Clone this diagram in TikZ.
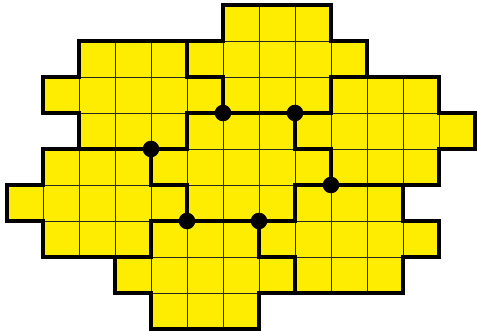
\documentclass[tikz,border=0pt]{standalone}
\usepackage{xcolor}
\usepackage{tikz}
\definecolor{cellyellow}{RGB}{255,237,0}

\begin{document}
\begin{tikzpicture}[x=1cm, y=-1cm,
  gridline/.style={line width=0.7pt, black!85},
  thickline/.style={line width=2.8pt, black},
  junction/.style={fill=black}]
\useasboundingbox (-0.194,-0.139) rectangle (13.056,9.028);
\coordinate (P1) at (6,3);
\coordinate (P2) at (8,3);
\coordinate (P3) at (4,4);
\coordinate (P4) at (9,5);
\coordinate (P5) at (5,6);
\coordinate (P6) at (7,6);
% outline of the whole patch
\def\outline{(6,0)--(9,0)--(9,1)--(10,1)--(10,2)--(12,2)--(12,3)--(13,3)--(13,4)--(12,4)--(12,5)--(11,5)--(11,6)--(12,6)--(12,7)--(11,7)--(11,8)--(7,8)--(7,9)--(4,9)--(4,8)--(3,8)--(3,7)--(1,7)--(1,6)--(0,6)--(0,5)--(1,5)--(1,4)--(2,4)--(2,3)--(1,3)--(1,2)--(2,2)--(2,1)--(6,1)--cycle}
\fill[cellyellow] \outline;
\begin{scope}
\clip \outline;
\draw[gridline] (0,0) grid (13,9);
\end{scope}
% borders between the pieces
\draw[thickline] (5,1)--(5,2)--(6,2)--(P1);
\draw[thickline] (10,2)--(9,2)--(9,3)--(P2)--(P1);
\draw[thickline] (P1)--(5,3)--(5,4)--(P3);
\draw[thickline] (P3)--(2,4);
\draw[thickline] (P2)--(8,4)--(9,4)--(P4);
\draw[thickline] (P4)--(11,5);
\draw[thickline] (P3)--(4,5)--(5,5)--(P5);
\draw[thickline] (P5)--(4,6)--(4,7)--(3,7);
\draw[thickline] (P5)--(P6);
\draw[thickline] (P4)--(8,5)--(8,6)--(P6);
\draw[thickline] (P6)--(7,7)--(8,7)--(8,8);
\draw[thickline] \outline;
\foreach \p in {P1,P2,P3,P4,P5,P6}
  \fill[junction] (\p) circle (0.23);
\end{tikzpicture}
\end{document}
